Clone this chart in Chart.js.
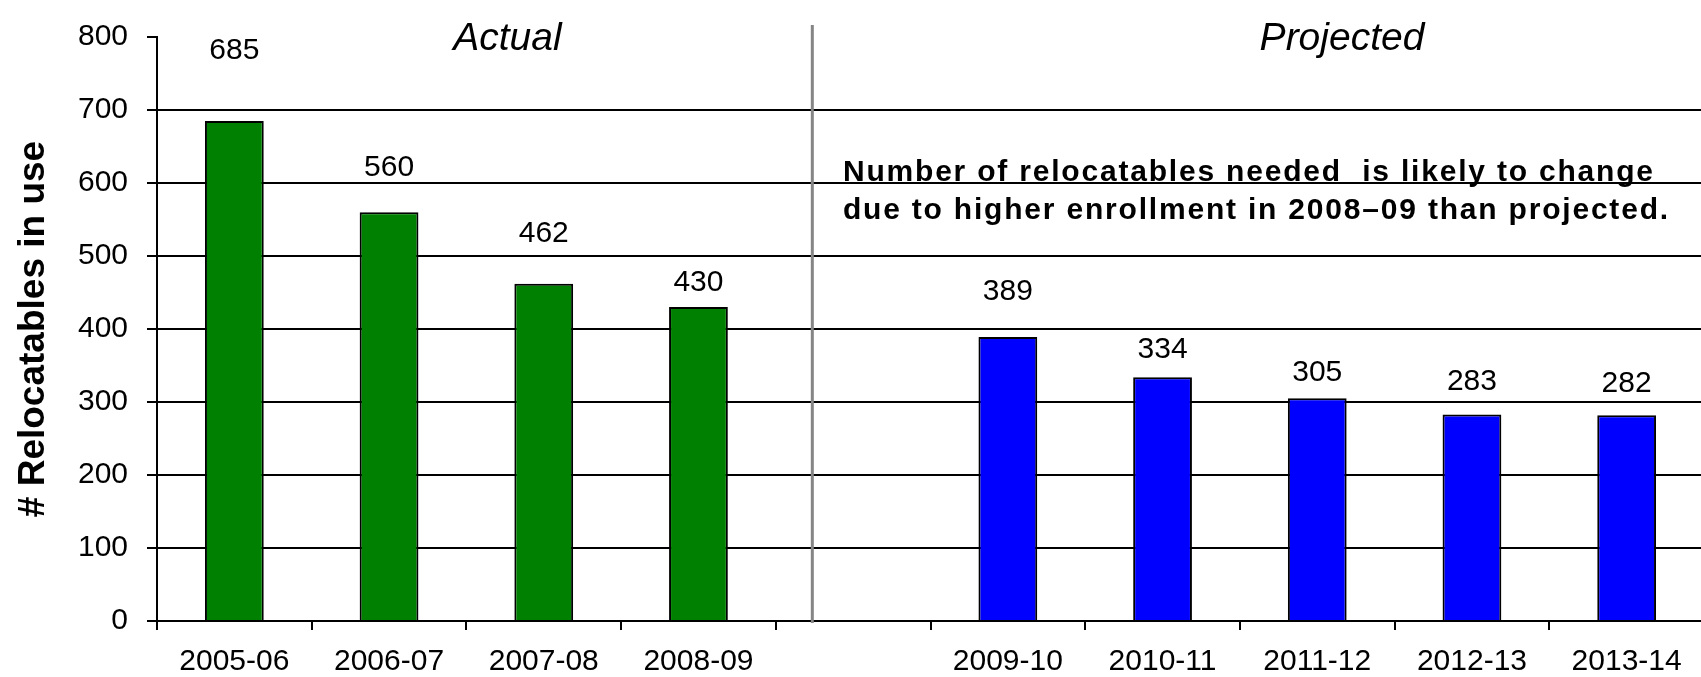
<!DOCTYPE html>
<html>
<head>
<meta charset="utf-8">
<title>Relocatables in use</title>
<script src="https://cdn.jsdelivr.net/npm/chart.js@4.4.1/dist/chart.umd.min.js"></script>
<style>
  html, body { margin: 0; padding: 0; background: #fff; overflow: hidden; }
  #wrap { width: 1704px; height: 677px; position: relative; }
</style>
</head>
<body>
<div id="wrap"><canvas id="relocChart"></canvas></div>
<script>
const actualYears = ['2005-06', '2006-07', '2007-08', '2008-09'];
const actualCounts = [685, 560, 462, 430];
const projectedYears = ['2009-10', '2010-11', '2011-12', '2012-13', '2013-14'];
const projectedCounts = [389, 334, 305, 283, 282];
const yTicks = [0, 100, 200, 300, 400, 500, 600, 700, 800];

// how far each value label sits above its bar (px)
const actualLabelLift = [70, 44, 50, 24];
const projectedLabelLift = [45, 27, 26, 33, 31];

const FONT = '"Liberation Sans", Arial, sans-serif';
const GAP = 1; // empty slot between the two periods

const categories = [...actualYears, '', ...projectedYears];
const pad = (n) => Array(n).fill(null);
const actualData = [...actualCounts, ...pad(GAP + projectedCounts.length)];
const projectedData = [...pad(actualCounts.length + GAP), ...projectedCounts];
const labelLift = [...actualLabelLift, ...pad(GAP), ...projectedLabelLift];

Chart.defaults.font.family = FONT;
Chart.defaults.color = '#000';

const valueLabels = {
  id: 'valueLabels',
  afterDatasetsDraw(chart) {
    const { ctx } = chart;
    ctx.save();
    ctx.font = '30px ' + FONT;
    ctx.fillStyle = '#000';
    ctx.textAlign = 'center';
    ctx.textBaseline = 'middle';
    chart.data.datasets.forEach((ds, di) => {
      chart.getDatasetMeta(di).data.forEach((bar, i) => {
        const v = ds.data[i];
        if (v === null || v === undefined) return;
        ctx.fillText(String(v), bar.x, bar.y - labelLift[i]);
      });
    });
    ctx.restore();
  },
};

const periodNotes = {
  id: 'periodNotes',
  beforeDatasetsDraw(chart) {
    const { ctx, chartArea } = chart;
    // separator between actual and projected years
    const x = chart.scales.x.getPixelForValue(3.736);
    ctx.save();
    ctx.strokeStyle = '#858585';
    ctx.lineWidth = 3;
    ctx.beginPath();
    ctx.moveTo(x, chartArea.top - 12);
    ctx.lineTo(x, chartArea.bottom + 2);
    ctx.stroke();
    ctx.restore();
  },
  afterDraw(chart) {
    const { ctx } = chart;
    const xs = chart.scales.x;
    const ys = chart.scales.y;
    ctx.save();
    ctx.fillStyle = '#000';
    ctx.textBaseline = 'alphabetic';

    ctx.font = 'italic 39px ' + FONT;
    ctx.textAlign = 'center';
    ctx.fillText('Actual', xs.getPixelForValue(1.765), ys.getPixelForValue(782));
    ctx.fillText('Projected', xs.getPixelForValue(7.16), ys.getPixelForValue(782));

    ctx.font = 'bold 30px ' + FONT;
    ctx.textAlign = 'left';
    ctx.letterSpacing = '1.8px';
    const nx = xs.getPixelForValue(3.934);
    ctx.fillText('Number of relocatables needed  is likely to change', nx, ys.getPixelForValue(600) - 2);
    ctx.fillText('due to higher enrollment in 2008\u201309 than projected.', nx, ys.getPixelForValue(551));
    ctx.restore();
  },
};

const config = {
  type: 'bar',
  data: {
    labels: categories,
    datasets: [
      {
        label: 'Actual',
        data: actualData,
        backgroundColor: '#008000',
        borderColor: '#000',
        borderWidth: 2,
      },
      {
        label: 'Projected',
        data: projectedData,
        backgroundColor: '#0000ff',
        borderColor: '#000',
        borderWidth: 2,
      },
    ],
  },
  options: {
    responsive: true,
    maintainAspectRatio: false,
    animation: false,
    grouped: false,
    categoryPercentage: 1,
    barPercentage: 0.38,
    layout: { padding: { top: 29, right: 0, bottom: 0, left: 0 } },
    plugins: {
      legend: { display: false },
      tooltip: { enabled: false },
    },
    scales: {
      x: {
        offset: true,
        grid: { offset: true, drawOnChartArea: false, color: '#000', lineWidth: 2, tickLength: 9 },
        border: { color: '#000', width: 2 },
        ticks: { font: { size: 30 }, color: '#000', padding: 14, autoSkip: false, maxRotation: 0 },
        afterFit(scale) { scale.height = 56; },
      },
      y: {
        min: 0,
        max: 800,
        afterBuildTicks(scale) { scale.ticks = yTicks.map((value) => ({ value })); },
        grid: {
          color: (c) => (c.tick && c.tick.value === 800 ? 'rgba(0,0,0,0)' : '#000'),
          tickColor: '#000',
          lineWidth: 2,
          tickLength: 10,
        },
        border: { color: '#000', width: 2 },
        ticks: { font: { size: 30 }, color: '#000', padding: 19 },
        title: {
          display: true,
          text: '# Relocatables in use',
          font: { size: 37, weight: 'bold', lineHeight: 1 },
          color: '#000',
          padding: { top: 15, bottom: 0 },
        },
        afterFit(scale) { scale.width = 157; },
      },
    },
  },
  plugins: [valueLabels, periodNotes],
};

new Chart(document.getElementById('relocChart'), config);
</script>
</body>
</html>
